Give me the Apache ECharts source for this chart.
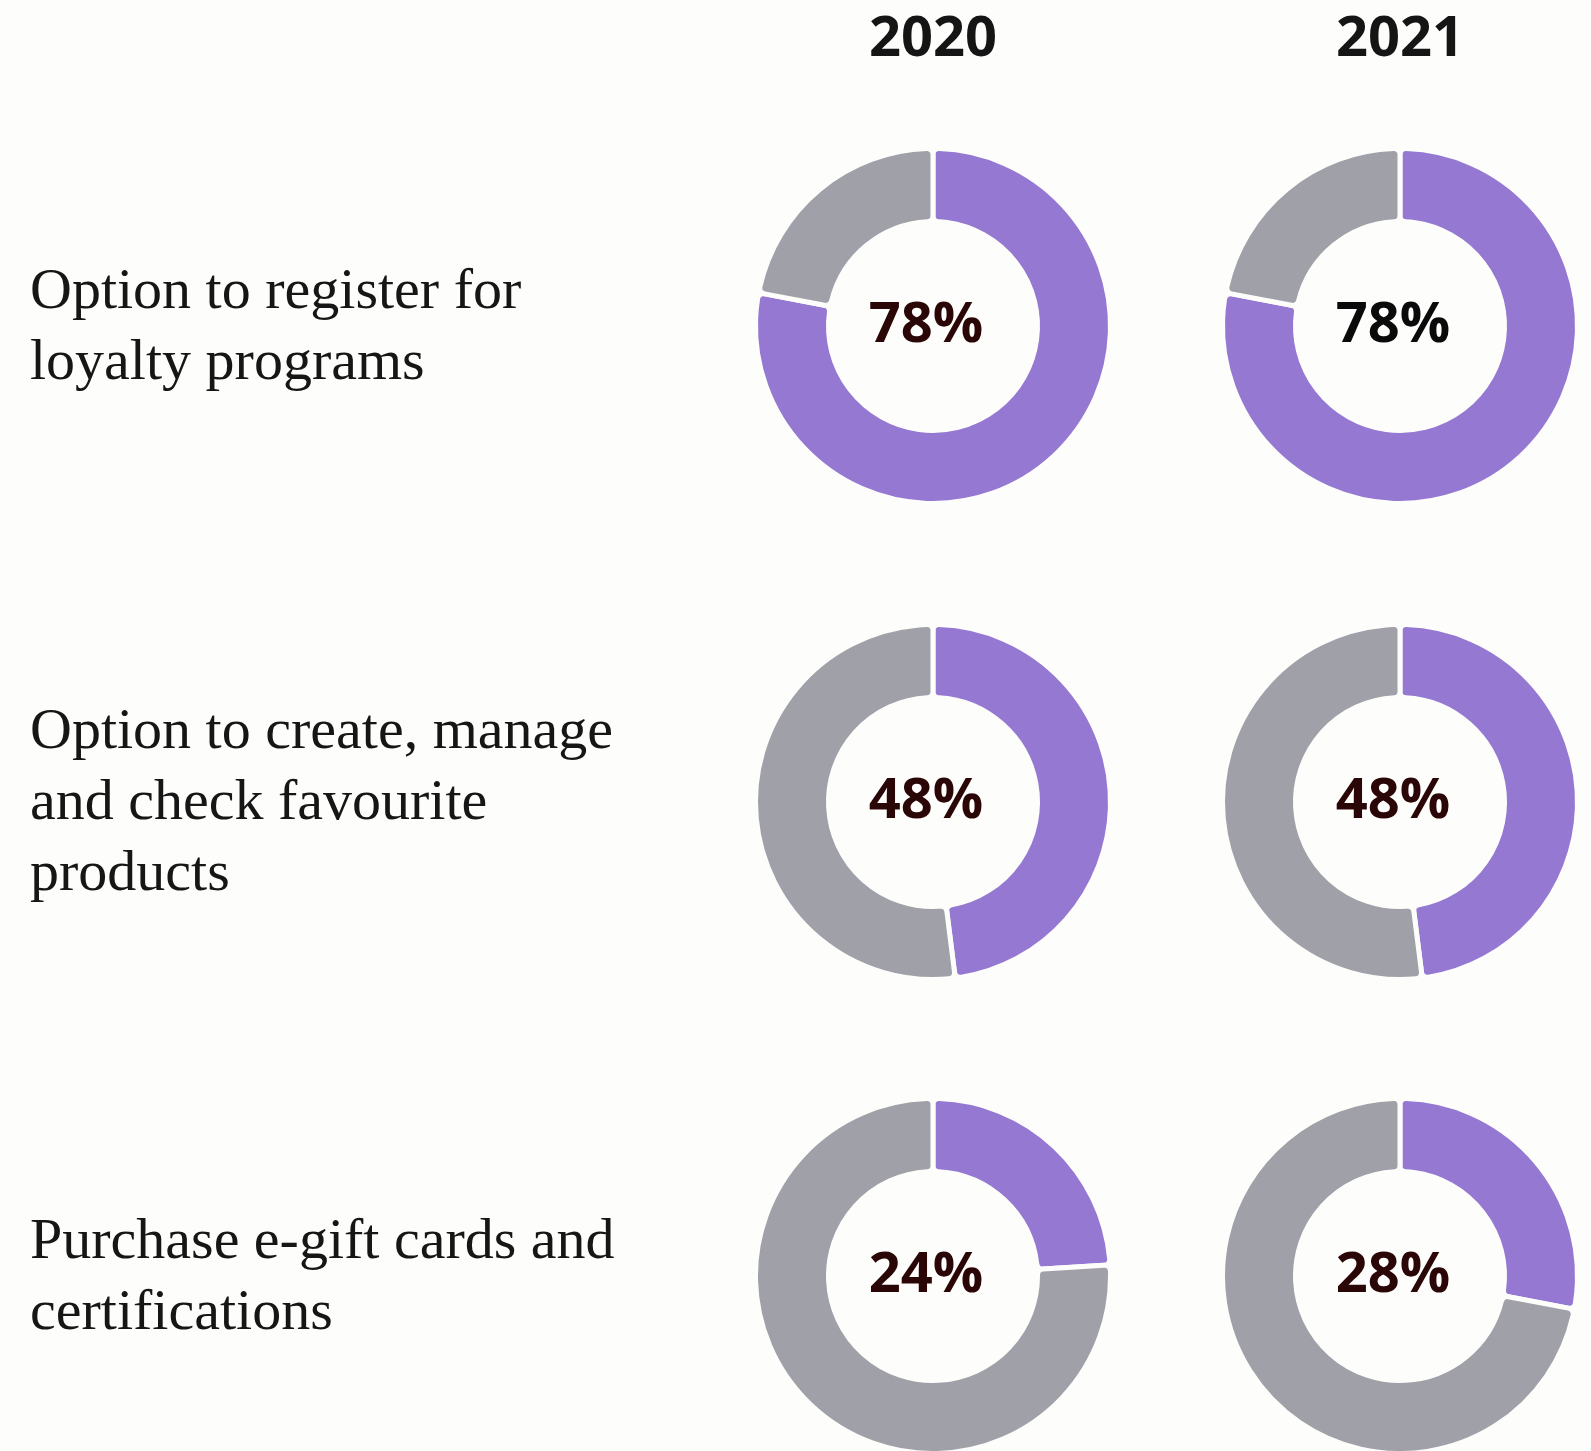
<!DOCTYPE html>
<html>
<head>
<meta charset="utf-8">
<title>Digital loyalty features</title>
<script src="https://cdn.jsdelivr.net/npm/echarts@6/dist/echarts.min.js"></script>
<style>
  html, body { margin: 0; padding: 0; background: #fdfdfb; }
  #chart { width: 1591px; height: 1451px; }
</style>
</head>
<body>
<div id="chart"></div>
<script>
// Survey years shown as columns
const years = ['2020', '2021'];

// Features shown as rows
const features = [
  'Option to register for\nloyalty programs',
  'Option to create, manage\nand check favourite\nproducts',
  'Purchase e-gift cards and\ncertifications'
];

// Share of retailers offering each feature (%)
const share2020 = [78, 48, 24];
const share2021 = [78, 48, 28];

// Layout and styling
const BG = '#fdfdfb';
const PURPLE = '#9478d2';
const GREY = '#a0a0a8';
const colX = [933, 1400];
const rowY = [326, 802, 1276];
const labelInk = [['#2b0606', '#0a0a0a'], ['#2b0606', '#2b0606'], ['#2b0606', '#2b0606']];
const HEAD_FONT = '"Open Sans", Inter, sans-serif';

const shares = [share2020, share2021];

const series = [];
features.forEach((feature, r) => {
  years.forEach((year, c) => {
    const v = shares[c][r];
    series.push({
      type: 'pie',
      name: year + ' – ' + feature.replace(/\n/g, ' '),
      center: [colX[c], rowY[r]],
      radius: [104.5, 177.5],
      startAngle: 90,
      clockwise: true,
      silent: true,
      avoidLabelOverlap: false,
      labelLine: { show: false },
      itemStyle: { borderColor: BG, borderWidth: 5, borderRadius: 6 },
      label: { show: false },
      data: [
        {
          value: v,
          name: 'Yes',
          itemStyle: { color: PURPLE },
          label: {
            show: true,
            position: 'center',
            formatter: '{c}%',
            fontFamily: HEAD_FONT,
            fontWeight: 700,
            fontSize: 56,
            color: labelInk[r][c],
            padding: [2, 14, 0, 0]
          }
        },
        { value: 100 - v, name: 'No', itemStyle: { color: GREY } }
      ]
    });
  });
});

const graphics = [];
years.forEach((year, c) => {
  graphics.push({
    type: 'text',
    x: colX[c],
    y: 40,
    style: {
      text: year,
      fontFamily: HEAD_FONT,
      fontWeight: 700,
      fontSize: 56,
      fill: '#151515',
      align: 'center',
      verticalAlign: 'middle'
    }
  });
});
features.forEach((feature, r) => {
  graphics.push({
    type: 'text',
    x: 30,
    y: rowY[r] + 2,
    style: {
      text: feature,
      fontFamily: 'Liberation Serif',
      fontSize: 58,
      lineHeight: 71,
      fill: '#161616',
      align: 'left',
      verticalAlign: 'middle'
    }
  });
});

const chart = echarts.init(document.getElementById('chart'), null, { renderer: 'canvas' });
chart.setOption({
  backgroundColor: BG,
  animation: false,
  series: series,
  graphic: graphics
});
</script>
</body>
</html>
